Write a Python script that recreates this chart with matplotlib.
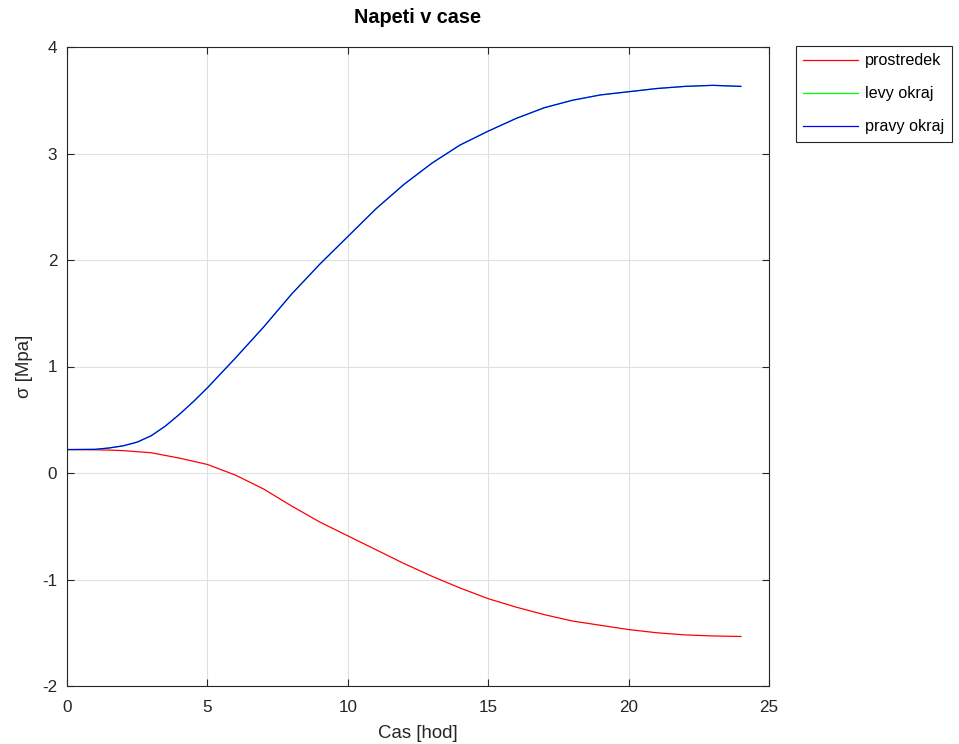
import matplotlib.pyplot as plt

plt.rcParams["font.family"] = ["Liberation Sans", "DejaVu Sans"]
plt.rcParams["axes.unicode_minus"] = False

# Time [hod] and stress [MPa] at the middle and both edges of the cross-section
cas = [0, 1, 1.5, 2, 2.5, 3, 3.5, 4, 4.5, 5, 6, 7, 8, 9, 10, 11, 12,
       13, 14, 15, 16, 17, 18, 19, 20, 21, 22, 23, 24]
prostredek = [0.22, 0.218, 0.215, 0.21, 0.20, 0.19, 0.165, 0.14, 0.11,
              0.08, -0.02, -0.15, -0.31, -0.46, -0.59, -0.72, -0.85,
              -0.97, -1.08, -1.18, -1.26, -1.33, -1.39, -1.43, -1.47,
              -1.50, -1.52, -1.53, -1.535]
levy_okraj = [0.22, 0.222, 0.235, 0.255, 0.29, 0.35, 0.44, 0.55, 0.67,
              0.80, 1.08, 1.37, 1.68, 1.96, 2.22, 2.48, 2.71, 2.91, 3.08,
              3.21, 3.33, 3.43, 3.50, 3.55, 3.58, 3.61, 3.63, 3.64, 3.63]
pravy_okraj = list(levy_okraj)

fig = plt.figure(figsize=(9.59, 7.44), dpi=100)
ax = fig.add_axes([67 / 959, 1 - 686 / 744, 702 / 959, 639 / 744])

ax.plot(cas, prostredek, color="#ff0000", linewidth=0.9, label="prostredek")
ax.plot(cas, levy_okraj, color="#00ff00", linewidth=0.9, label="levy okraj")
ax.plot(cas, pravy_okraj, color="#0000ff", linewidth=0.9, label="pravy okraj")

ax.set_xlim(0, 25)
ax.set_ylim(-2, 4)
ax.set_xticks([0, 5, 10, 15, 20, 25])
ax.set_yticks([-2, -1, 0, 1, 2, 3, 4])
ax.grid(True, color="#e0e0e0", linewidth=0.8)
ax.set_axisbelow(True)
ax.tick_params(direction="in", top=True, right=True, labelsize=12.3,
               colors="#262626", length=5)
ax.tick_params(axis="x", pad=10)
ax.tick_params(axis="y", pad=7)
for spine in ax.spines.values():
    spine.set_color("#262626")
    spine.set_linewidth(0.8)

ax.set_xlabel("Cas [hod]", fontsize=13.4, color="#262626", labelpad=7)
ax.set_ylabel("σ [Mpa]", fontsize=13.4, color="#262626", labelpad=6.5)
ax.set_title("Napeti v case", fontsize=14.3, fontweight="bold", pad=17)

leg = ax.legend(loc="upper left", bbox_to_anchor=(796 / 959, 1 - 46 / 744),
                bbox_transform=fig.transFigure, fontsize=11.6, fancybox=False,
                framealpha=1, edgecolor="#262626", handlelength=3.4,
                handletextpad=0.45, labelspacing=1.12, borderpad=0.45,
                borderaxespad=0)
leg.get_frame().set_linewidth(0.8)

fig.savefig("out.png", dpi=100)
